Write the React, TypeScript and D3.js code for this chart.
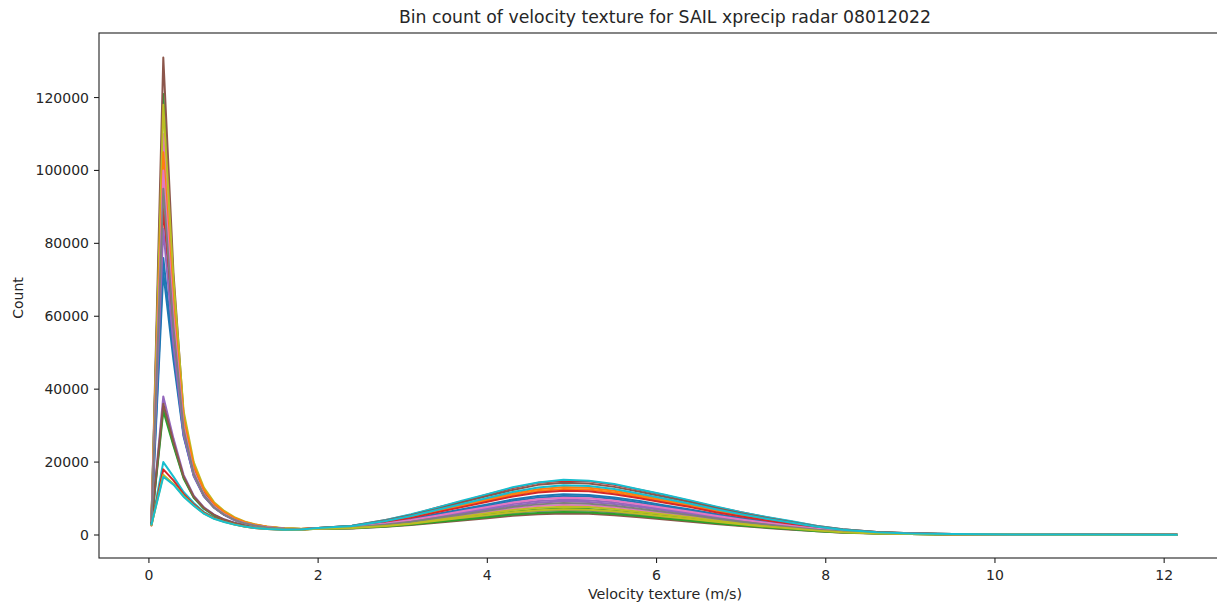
import React from 'react';
import * as d3 from 'd3';

// ---------------- data ----------------
const title = 'Bin count of velocity texture for SAIL xprecip radar 08012022';
const xLabel = 'Velocity texture (m/s)';
const yLabel = 'Count';

const xTickValues = [0, 2, 4, 6, 8, 10, 12];
const yTickValues = [0, 20000, 40000, 60000, 80000, 100000, 120000];

// bin centres (m/s)
const xBins = [0.03, 0.17, 0.29, 0.41, 0.53, 0.65, 0.77, 0.89, 1.01, 1.13, 1.25, 1.4, 1.6, 1.8,
  2.0, 2.4, 2.8, 3.1, 3.4, 3.7, 4.0, 4.3, 4.6, 4.9, 5.2, 5.5, 5.8, 6.1, 6.4, 6.7, 7.0, 7.3, 7.6, 7.9, 8.2, 8.6, 9.0, 9.5, 10.2, 11.0, 12.15];

const s00 = [4100,76000,50000,27500,16500,10800,7600,5600,4200,3250,2600,2100,1700,1650,
  1800,2200,3250,4250,5500,6800,8050,9300,10250,10700,10550,9850,8850,7750,6700,5500,4450,3500,2600,1800,1150,620,360,200,130,100,70];
const s01 = [4300,98000,60000,31000,18500,12000,8400,6200,4600,3500,2800,2200,1800,1650,
  1900,2400,3750,5050,6600,8250,9800,11400,12550,13150,12950,12150,10900,9550,8250,6800,5450,4300,3200,2200,1400,750,420,230,150,110,80];
const s02 = [4200,121000,69000,32000,18000,11500,8000,5900,4400,3400,2700,2150,1750,1650,
  1700,1900,2550,3200,3950,4800,5600,6400,7000,7250,7150,6650,6000,5250,4550,3700,3000,2400,1800,1200,800,450,270,160,110,80,60];
const s03 = [3000,90000,55000,28500,16500,10800,7600,5600,4200,3250,2600,2100,1700,1650,
  1900,2550,4100,5550,7450,9200,11100,12900,14300,14850,14750,13750,12400,10900,9350,7700,6250,4850,3650,2450,1600,830,460,250,160,120,80];
const s04 = [3400,38000,26500,16500,10800,7600,5600,4300,3350,2650,2200,1850,1550,1550,
  1750,2050,2950,3800,4850,5950,7000,8050,8850,9250,9050,8500,7650,6700,5750,4750,3850,3000,2250,1550,1000,550,320,190,120,90,70];
const s05 = [3500,131000,72000,33000,18500,11800,8200,6000,4500,3500,2800,2200,1800,1650,
  1650,1800,2250,2750,3350,4000,4600,5250,5700,5900,5800,5400,4850,4250,3650,3000,2450,1950,1450,1000,650,380,240,150,100,80,60];
const s06 = [5000,110000,64000,31000,17500,11200,7800,5800,4300,3300,2650,2100,1700,1650,
  1750,2000,2750,3500,4400,5350,6300,7250,7950,8250,8100,7600,6800,5950,5150,4250,3450,2700,2000,1400,900,500,300,180,120,90,60];
const s07 = [3200,35000,25000,15800,10400,7300,5400,4150,3250,2600,2150,1800,1550,1500,
  1700,1850,2450,3000,3750,4500,5250,6000,6550,6750,6650,6200,5600,4900,4200,3450,2800,2250,1650,1150,750,420,260,160,100,80,60];
const s08 = [4500,118000,70000,34000,20000,13000,9000,6600,4900,3700,2950,2300,1850,1700,
  1700,1950,2650,3350,4200,5050,5950,6850,7450,7750,7650,7100,6400,5600,4850,4000,3200,2550,1900,1300,850,470,290,170,110,90,60];
const s09 = [2800,20000,16000,11800,8800,6300,4800,3800,3000,2400,2000,1700,1450,1500,
  1950,2550,4150,5700,7450,9400,11200,13100,14400,15150,14850,14000,12500,11050,9450,7850,6250,4950,3750,2450,1600,850,470,260,160,120,80];
const s10 = [3700,72000,48000,27000,16200,10600,7500,5500,4100,3200,2550,2050,1700,1600,
  1800,2250,3350,4400,5750,7050,8400,9750,10700,11200,11000,10300,9300,8100,7000,5750,4650,3700,2750,1850,1200,650,370,210,140,100,70];
const s11 = [4000,105000,63000,32000,19000,12400,8600,6300,4700,3600,2850,2250,1800,1650,
  1850,2350,3650,4900,6400,7900,9450,11000,12100,12650,12500,11650,10500,9200,7950,6550,5250,4150,3100,2100,1350,720,410,230,150,110,80];
const s12 = [3100,34000,24500,15500,10200,7200,5350,4100,3200,2550,2150,1800,1550,1500,
  1700,1850,2350,2850,3550,4200,4900,5600,6050,6300,6150,5750,5200,4500,3900,3200,2600,2050,1550,1050,700,400,250,150,100,80,60];
const s13 = [2600,18000,15000,11200,8400,6100,4650,3700,2950,2350,1950,1650,1450,1450,
  1850,2300,3550,4700,6200,7650,9100,10550,11650,12150,12000,11200,10100,8850,7650,6250,5050,4000,3000,2000,1300,700,400,220,140,110,70];
const s14 = [3900,84000,52000,27500,16200,10600,7500,5500,4100,3200,2550,2050,1700,1600,
  1800,2100,3050,3950,5100,6200,7350,8500,9300,9700,9550,8950,8050,7050,6100,5000,4050,3200,2400,1600,1050,570,340,190,130,100,70];
const s15 = [3300,36000,25500,16000,10500,7400,5500,4200,3300,2650,2200,1800,1550,1550,
  1900,2500,3950,5450,7100,8900,10700,12350,13750,14300,14150,13200,11850,10450,9000,7400,5950,4700,3500,2350,1500,800,450,250,160,120,80];
const s16 = [3800,100000,60000,30000,17000,11000,7700,5700,4200,3250,2600,2100,1700,1600,
  1800,2150,3150,4100,5300,6500,7700,8900,9800,10200,10050,9400,8450,7400,6400,5250,4250,3350,2500,1700,1100,600,350,200,130,100,70];
const s17 = [3600,95000,57000,29000,16800,10900,7600,5600,4200,3200,2600,2050,1700,1600,
  1750,2050,2850,3650,4650,5650,6650,7650,8400,8750,8600,8050,7200,6300,5450,4500,3650,2850,2150,1450,950,520,310,180,120,90,70];
const s18 = [2700,16500,14000,10700,8100,5900,4500,3600,2900,2300,1950,1650,1450,1450,
  1700,1900,2500,3100,3900,4700,5450,6250,6800,7050,6950,6500,5850,5100,4400,3600,2950,2300,1750,1200,780,440,270,160,110,80,60];
const s19 = [2900,16000,13800,10500,8000,5850,4450,3550,2850,2300,1900,1650,1450,1500,
  1900,2450,3850,5200,6850,8500,10150,11800,13050,13650,13450,12600,11300,9950,8550,7050,5700,4450,3350,2250,1450,780,440,240,150,110,80];

const seriesList = [s00, s01, s02, s03, s04, s05, s06, s07, s08, s09, s10, s11, s12, s13, s14, s15, s16, s17, s18, s19];

const palette = ['#1f77b4', '#ff7f0e', '#2ca02c', '#d62728', '#9467bd', '#8c564b', '#e377c2', '#7f7f7f', '#bcbd22', '#17becf'];

// ---------------- layout ----------------
const W = 1217;
const H = 602;
const left = 99, right = 1231, top = 33, bottom = 558;
const FONT = '"DejaVu Sans", sans-serif';

export default function App() {
  const x = d3.scaleLinear().domain([-0.59, 12.79]).range([left, right]);
  const y = d3.scaleLinear().domain([-6310, 137700]).range([bottom, top]);
  const line = d3.line<number>()
    .x((_, i) => x(xBins[i]))
    .y((d) => y(d));

  return (
    <svg width={W} height={H} style={{ position: 'absolute', left: 0, top: 0, background: '#fff' }}>
      <rect x={0} y={0} width={W} height={H} fill="#fff" />
      <g>
        {seriesList.map((s, i) => (
          <path key={i} d={line(s) || ''} fill="none" stroke={palette[i % 10]}
            strokeWidth={2} strokeLinejoin="round" strokeLinecap="round" />
        ))}
      </g>
      <rect x={left} y={top} width={right - left} height={bottom - top} fill="none" stroke="#222" strokeWidth={1.1} />
      {xTickValues.map((t) => (
        <g key={'x' + t}>
          <line x1={x(t)} x2={x(t)} y1={bottom} y2={bottom + 5} stroke="#222" strokeWidth={1.1} />
          <text x={x(t)} y={580} textAnchor="middle" fontFamily={FONT} fontSize={14} fill="#262626">{t}</text>
        </g>
      ))}
      {yTickValues.map((t) => (
        <g key={'y' + t}>
          <line x1={left - 5} x2={left} y1={y(t)} y2={y(t)} stroke="#222" strokeWidth={1.1} />
          <text x={89} y={y(t)} dy="0.36em" textAnchor="end" fontFamily={FONT} fontSize={14} fill="#262626">{t}</text>
        </g>
      ))}
      <text x={665} y={23} textAnchor="middle" fontFamily={FONT} fontSize={17.3} fill="#262626">{title}</text>
      <text x={665} y={599} textAnchor="middle" fontFamily={FONT} fontSize={14.3} fill="#262626">{xLabel}</text>
      <text transform="translate(23,298) rotate(-90)" textAnchor="middle" fontFamily={FONT} fontSize={14} fill="#262626">{yLabel}</text>
    </svg>
  );
}
